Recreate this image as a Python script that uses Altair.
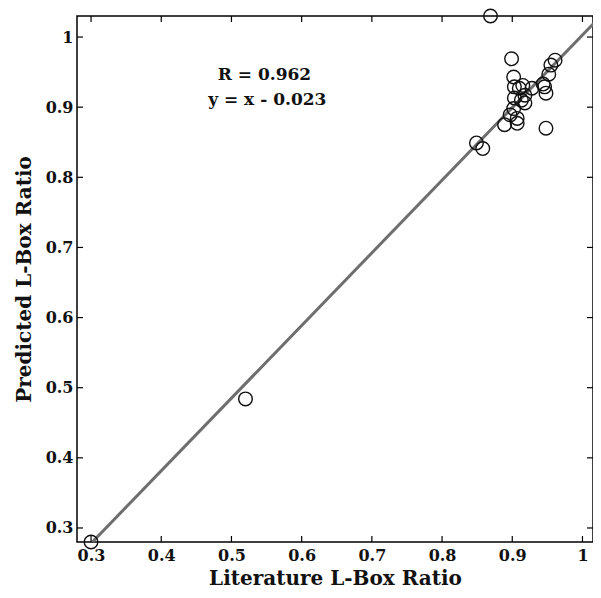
import altair as alt
import pandas as pd

# Scatter data (Literature vs Predicted L-Box ratio)
literature = [0.300, 0.520, 0.849, 0.858, 0.869, 0.889, 0.897, 0.899, 0.902, 0.902,
              0.903, 0.903, 0.907, 0.907, 0.910, 0.913, 0.915, 0.918, 0.918, 0.928,
              0.944, 0.946, 0.948, 0.948, 0.952, 0.955, 0.961]
predicted = [0.280, 0.484, 0.849, 0.841, 1.030, 0.875, 0.889, 0.969, 0.943, 0.898,
             0.929, 0.913, 0.884, 0.877, 0.927, 0.910, 0.931, 0.917, 0.906, 0.927,
             0.933, 0.929, 0.920, 0.870, 0.947, 0.960, 0.967]

# Fit line endpoints
fit_x = [0.300, 1.030]
fit_y = [0.278, 1.034]

# Tick values
ticks = [0.3, 0.4, 0.5, 0.6, 0.7, 0.8, 0.9, 1.0]

# Annotation
ann_text = ["R = 0.962", "y = x - 0.023"]
ann_x = [0.547, 0.551]
ann_y = [0.946, 0.910]

W, H = 516, 526
FONT = "DejaVu Serif"
TL = 6

xs = alt.Scale(domain=[0.28, 1.015], nice=False, zero=False)
ys = alt.Scale(domain=[0.28, 1.03], nice=False, zero=False)

xaxis = alt.Axis(values=ticks, title="Literature L-Box Ratio", grid=False, domain=False,
                 ticks=False, labelPadding=5, titlePadding=5, format="~g")
yaxis = alt.Axis(values=ticks, title="Predicted L-Box Ratio", grid=False, domain=False,
                 ticks=False, labelPadding=4, titlePadding=11, format="~g")

pts = pd.DataFrame({"x": literature, "y": predicted})
fit = pd.DataFrame({"x": fit_x, "y": fit_y})
tk = pd.DataFrame({"x": ticks, "y": ticks})
ann = pd.DataFrame({"x": ann_x, "y": ann_y, "t": ann_text})

X = alt.X("x:Q", scale=xs, axis=xaxis)
Y = alt.Y("y:Q", scale=ys, axis=yaxis)

line = alt.Chart(fit).mark_line(color="#6e6e6e", strokeWidth=3, clip=True).encode(x=X, y=Y)
points = alt.Chart(pts).mark_point(shape="circle", size=185, filled=False,
                                   color="#111111", strokeWidth=1.4, opacity=1).encode(x=X, y=Y)
text = alt.Chart(ann).mark_text(font=FONT, fontSize=17, fontWeight="bold",
                                color="#111111").encode(x=X, y=Y, text="t:N")

bt = alt.Chart(tk).mark_rule(color="black", strokeWidth=1.2).encode(
    x=X, y=alt.value(H), y2=alt.value(H - TL))
tt = alt.Chart(tk).mark_rule(color="black", strokeWidth=1.2).encode(
    x=X, y=alt.value(0), y2=alt.value(TL))
lt = alt.Chart(tk).mark_rule(color="black", strokeWidth=1.2).encode(
    y=Y, x=alt.value(0), x2=alt.value(TL))
rt = alt.Chart(tk).mark_rule(color="black", strokeWidth=1.2).encode(
    y=Y, x=alt.value(W), x2=alt.value(W - TL))

chart = alt.layer(line, bt, tt, lt, rt, points, text).properties(
    width=W, height=H,
    background="white",
    autosize=alt.AutoSizeParams(type="none"),
    padding={"left": 69, "top": 8, "right": 0, "bottom": 48},
).configure_view(
    stroke="black", strokeWidth=1.5
).configure_axis(
    labelFont=FONT, labelFontSize=16, labelFontWeight="bold", labelColor="#111111",
    titleFont=FONT, titleFontSize=20, titleFontWeight="bold", titleColor="#111111",
)

chart.save("out.html", embed_options={"renderer": "svg", "actions": False})
